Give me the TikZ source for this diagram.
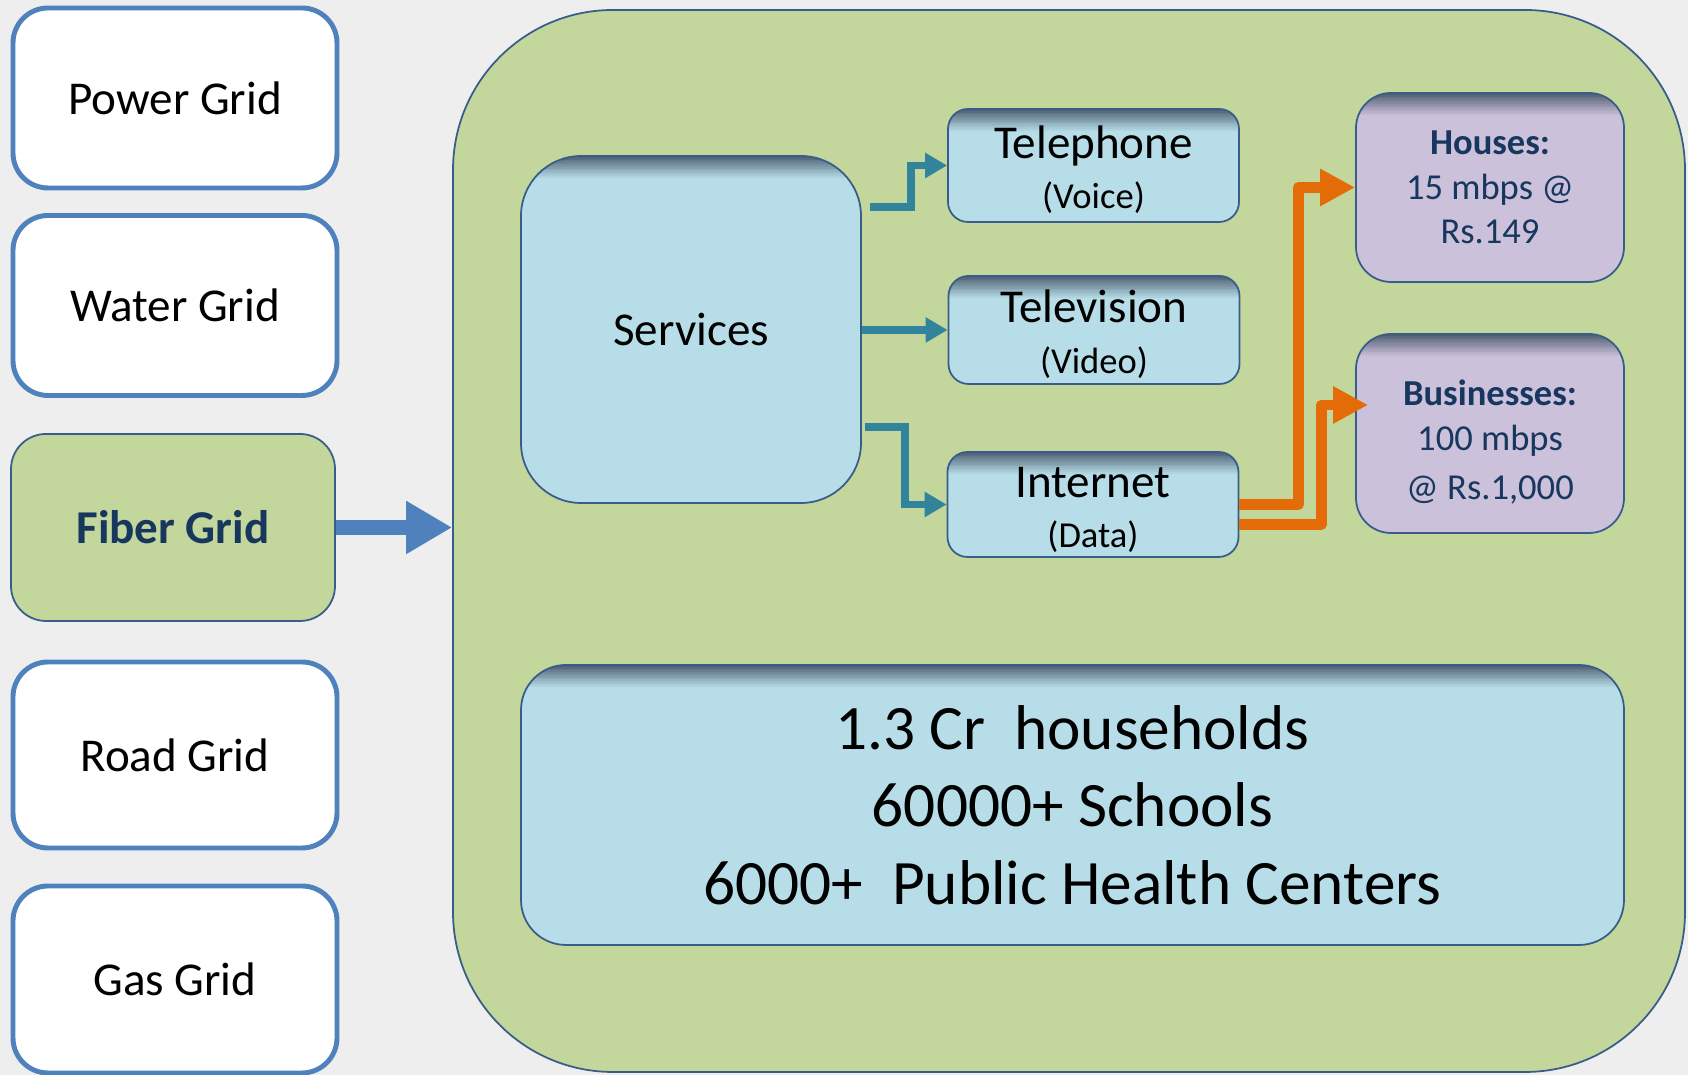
\documentclass[tikz,border=0pt]{standalone}
\usepackage{fontspec}
\setmainfont{Carlito}
\usetikzlibrary{arrows.meta,calc}
\definecolor{bggray}{HTML}{EEEEEE}
\definecolor{gridblue}{HTML}{4F81BD}
\definecolor{leafgreen}{HTML}{C3D69B}
\definecolor{edgeblue}{HTML}{385D8A}
\definecolor{skyblue}{HTML}{B7DEE8}
\definecolor{lilac}{HTML}{CCC1DA}
\definecolor{navy}{HTML}{17375E}
\definecolor{tealline}{HTML}{31849B}
\definecolor{orangeline}{HTML}{E36C09}
\definecolor{shadowgray}{HTML}{46566A}

\begin{document}
\begin{tikzpicture}
[every node/.style={inner sep=0pt},
grid/.style={draw=gridblue, line width=1.4pt, fill=white, rounded corners=0.35cm, minimum width=3.24cm, font=\fontsize{13.4}{16}\selectfont},
sunk/.style={draw=edgeblue, line width=0.5pt, fill=#1, path picture={
  \foreach \i in {0,...,11} {
    \pgfmathtruncatemacro\shadepct{92-7.6*\i}
    \fill[sharp corners, shadowgray!\shadepct!#1] ([yshift={-0.018cm*\i}]path picture bounding box.north west) rectangle ([yshift={-0.018cm*\i-0.02cm}]path picture bounding box.north east);
  }}},
svc/.style={sunk=skyblue, rounded corners=0.2cm, minimum width=2.91cm, align=center, font=\fontsize{13.4}{14.3}\selectfont},
plan/.style={sunk=lilac, rounded corners=0.35cm, minimum width=2.68cm, align=center, text=navy, font=\fontsize{10.4}{12.7}\selectfont},
tealedge/.style={draw=tealline, line width=2.1pt, -{Triangle[length=0.22cm,width=0.24cm]}},
orangeedge/.style={draw=orangeline, line width=3.1pt, line join=round, -{Triangle[length=0.35cm,width=0.35cm]}},
fiberedge/.style={draw=gridblue, line width=4pt, -{Triangle[length=0.46cm,width=0.5cm]}}]
%%
\useasboundingbox (0,0) rectangle (16.88,10.75);
\fill[bggray] (0,0) rectangle (16.88,10.75);
%%
\begin{scope}
\node[grid, minimum height=1.80cm] (power) at (1.75,9.77) {Power Grid};
\node[grid, minimum height=1.80cm] (water) at (1.75,7.695) {Water Grid};
\node[draw=edgeblue, line width=0.5pt, fill=leafgreen, rounded corners=0.35cm, minimum width=3.24cm, minimum height=1.87cm, text=navy, font=\fontsize{13.4}{16}\selectfont\bfseries] (fiber) at (1.73,5.475) {Fiber Grid};
\node[grid, minimum height=1.86cm] (road) at (1.75,3.20) {Road Grid};
\node[grid, minimum height=1.87cm] (gas) at (1.75,0.955) {Gas Grid};
\end{scope}
%%
%%
\node[draw=edgeblue, line width=0.5pt, fill=leafgreen, rounded corners=1.6cm, minimum width=12.32cm, minimum height=10.62cm] (fibernet) at (10.69,5.34) {};
\draw[fiberedge] (fiber.east) -- (fiber.east -| fibernet.west);
%%
\begin{scope}
\node[sunk=skyblue, rounded corners=0.6cm, minimum width=3.40cm, minimum height=3.47cm, font=\fontsize{13.4}{16}\selectfont] (services) at (6.91,7.455) {Services};
%%
\node[svc, minimum height=1.13cm] (tel) at (10.935,9.095) {\rule{0pt}{0.41cm}Telephone\\{\fontsize{10.4}{14.3}\selectfont (Voice)}};
\node[svc, minimum height=1.08cm] (tv) at (10.94,7.45) {\rule{0pt}{0.41cm}Television\\{\fontsize{10.4}{14.3}\selectfont (Video)}};
\node[svc, minimum height=1.05cm] (net) at (10.93,5.705) {\rule{0pt}{0.41cm}Internet\\{\fontsize{10.4}{14.3}\selectfont (Data)}};
%%
\draw[tealedge] ($(services.east)+(0.08,1.225)$) -- ++(0.41,0) |- (tel.west);
\draw[tealedge] (services.east |- tv.west) -- (tv.west);
\draw[tealedge] ($(services.east)+(0.03,-0.975)$) -- ++(0.40,0) |- (net.west);
\end{scope}
%%
\begin{scope}
\node[plan, minimum height=1.89cm] (houses) at (14.90,8.875) {\textbf{Houses:}\\15 mbps @\\Rs.149};
\node[plan, minimum height=1.99cm] (biz) at (14.90,6.415) {\rule{0pt}{0.43cm}\textbf{Businesses:}\\100 mbps\\[1.5pt]@ Rs.1,000};
%%
\draw[orangeedge] (net.east) -- ++(0.59,0) |- (houses.west);
\draw[orangeedge] ($(net.east)+(0,-0.2)$) -- ++(0.82,0) |- ($(biz.west)+(0.13,0.285)$);
\end{scope}
%%
\node[sunk=skyblue, rounded corners=0.45cm, minimum width=11.03cm, minimum height=2.80cm, align=center, font=\fontsize{18}{22}\selectfont] (reach) at (10.725,2.70) {1.3 Cr~ households\\60000+ Schools\\6000+~ Public Health Centers};
\end{tikzpicture}
\end{document}
